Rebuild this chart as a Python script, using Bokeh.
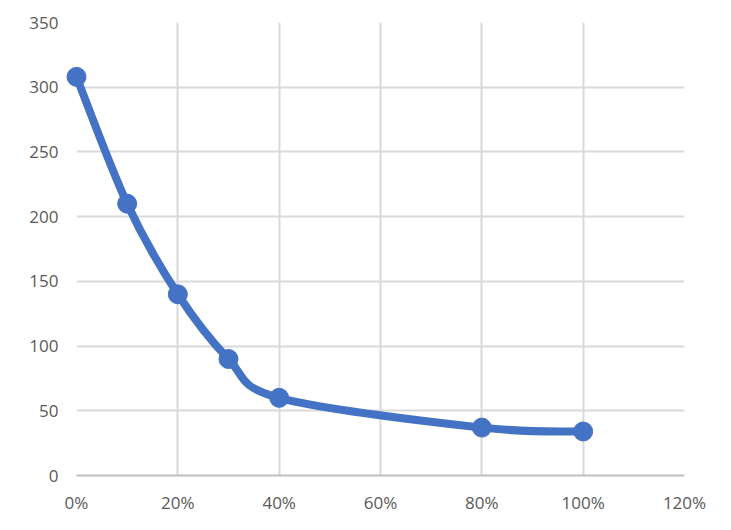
from bokeh.plotting import figure
from bokeh.models import FixedTicker, NumeralTickFormatter, Range1d
from bokeh.embed import file_html
from bokeh.resources import INLINE

x_vals = [0.0, 0.1, 0.2, 0.3, 0.4, 0.8, 1.0]
y_vals = [308, 210, 140, 90, 60, 37, 34]
x_ticks = [0, 0.2, 0.4, 0.6, 0.8, 1.0, 1.2]
y_ticks = [0, 50, 100, 150, 200, 250, 300, 350]

COLOR = "#4472C4"

p = figure(width=714, height=516, output_backend="svg", toolbar_location=None,
           x_range=Range1d(0, 1.2), y_range=Range1d(0, 350),
           min_border_left=76, min_border_right=30, min_border_top=22, min_border_bottom=33)
p.outline_line_color = None
p.background_fill_color = "white"
p.border_fill_color = "white"

# smoothed curve: Catmull-Rom style cubic Bezier segments computed from the data
n = len(x_vals)
x0s, y0s, x1s, y1s, cx0s, cy0s, cx1s, cy1s = [], [], [], [], [], [], [], []
for i in range(n - 1):
    xp = x_vals[i - 1] if i > 0 else x_vals[i]
    yp = y_vals[i - 1] if i > 0 else y_vals[i]
    xn = x_vals[i + 2] if i + 2 < n else x_vals[i + 1]
    yn = y_vals[i + 2] if i + 2 < n else y_vals[i + 1]
    x0s.append(x_vals[i]); y0s.append(y_vals[i])
    x1s.append(x_vals[i + 1]); y1s.append(y_vals[i + 1])
    cx0s.append(x_vals[i] + (x_vals[i + 1] - xp) / 6)
    cy0s.append(y_vals[i] + (y_vals[i + 1] - yp) / 6)
    cx1s.append(x_vals[i + 1] - (xn - x_vals[i]) / 6)
    cy1s.append(y_vals[i + 1] - (yn - y_vals[i]) / 6)

p.bezier(x0=x0s, y0=y0s, x1=x1s, y1=y1s, cx0=cx0s, cy0=cy0s, cx1=cx1s, cy1=cy1s,
         line_color=COLOR, line_width=8, line_cap="round", level="overlay")
p.scatter(x_vals, y_vals, size=19, fill_color=COLOR, line_color=COLOR, level="overlay")

p.xaxis.ticker = FixedTicker(ticks=x_ticks)
p.yaxis.ticker = FixedTicker(ticks=y_ticks)
p.xaxis.formatter = NumeralTickFormatter(format="0%")
for ax in (p.xaxis, p.yaxis):
    ax.major_tick_line_color = None
    ax.minor_tick_line_color = None
    ax.major_label_text_color = "#595959"
    ax.major_label_text_font = "Open Sans"
    ax.major_label_text_font_size = "17px"
p.xaxis.axis_line_color = "#bfbfbf"
p.xaxis.axis_line_width = 2
p.yaxis.axis_line_color = None
p.xaxis.major_label_standoff = 9
p.yaxis.major_label_standoff = 12

p.xgrid.grid_line_color = "#d9d9d9"
p.ygrid.grid_line_color = "#d9d9d9"
p.xgrid.grid_line_width = 2
p.ygrid.grid_line_width = 2

open("out.html", "w").write(file_html(p, INLINE))
